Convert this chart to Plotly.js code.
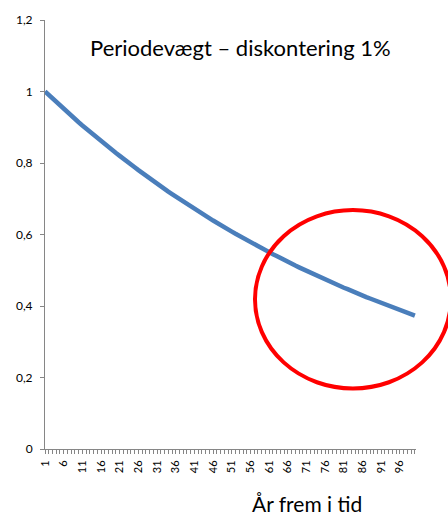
<!DOCTYPE html>
<html>
<head>
<meta charset="utf-8">
<script src="https://cdn.plot.ly/plotly-3.0.1.min.js"></script>
<style>html,body{margin:0;padding:0;background:#fff;}#chart{width:448px;height:516px;}</style>
</head>
<body>
<div id="chart"></div>
<script>
var years = [1,2,3,4,5,6,7,8,9,10,11,12,13,14,15,16,17,18,19,20,
  21,22,23,24,25,26,27,28,29,30,31,32,33,34,35,36,37,38,39,40,
  41,42,43,44,45,46,47,48,49,50,51,52,53,54,55,56,57,58,59,60,
  61,62,63,64,65,66,67,68,69,70,71,72,73,74,75,76,77,78,79,80,
  81,82,83,84,85,86,87,88,89,90,91,92,93,94,95,96,97,98,99,100];
var weights = [1.000,0.990,0.980,0.971,0.961,0.951,0.942,0.933,0.923,0.914,
  0.905,0.896,0.887,0.879,0.870,0.861,0.853,0.844,0.836,0.828,
  0.820,0.811,0.803,0.795,0.788,0.780,0.772,0.764,0.757,0.749,
  0.742,0.735,0.727,0.720,0.713,0.706,0.699,0.692,0.685,0.678,
  0.672,0.665,0.658,0.652,0.645,0.639,0.633,0.626,0.620,0.614,
  0.608,0.602,0.596,0.590,0.584,0.579,0.573,0.567,0.562,0.556,
  0.550,0.545,0.540,0.534,0.529,0.524,0.519,0.513,0.508,0.503,
  0.498,0.493,0.489,0.484,0.479,0.474,0.469,0.465,0.460,0.456,
  0.451,0.447,0.442,0.438,0.434,0.429,0.425,0.421,0.417,0.412,
  0.408,0.404,0.400,0.396,0.392,0.389,0.385,0.381,0.377,0.373];
var xTickLabels = [1,6,11,16,21,26,31,36,41,46,51,56,61,66,71,76,81,86,91,96];
var yTickValues = [0,0.2,0.4,0.6,0.8,1,1.2];

var font = 'Lato, "Open Sans", sans-serif';
var trace = {
  x: years, y: weights, type: 'scatter', mode: 'lines',
  line: {color: '#4a7ebb', width: 4.5}, hoverinfo: 'x+y'
};
var layout = {
  width: 448, height: 516,
  margin: {l: 45, r: 32, t: 20, b: 67},
  paper_bgcolor: '#ffffff', plot_bgcolor: '#ffffff',
  separators: ',.',
  showlegend: false,
  font: {family: font, color: '#000000'},
  xaxis: {
    range: [1, 100.3], showgrid: false, zeroline: false,
    showline: true, linecolor: '#868686', linewidth: 1,
    tickmode: 'array', tickvals: xTickLabels, ticktext: xTickLabels.map(String),
    ticks: 'outside', ticklen: 4, tickcolor: '#868686', tickwidth: 1,
    tickangle: -90, tickfont: {size: 11, family: font, color: '#000'},
    ticklabelstandoff: 2,
    minor: {dtick: 1, tick0: 0, ticks: 'outside', ticklen: 4, tickcolor: '#868686', tickwidth: 1},
    fixedrange: true
  },
  yaxis: {
    range: [0, 1.2], showgrid: false, zeroline: false,
    showline: true, linecolor: '#868686', linewidth: 1,
    tickmode: 'array', tickvals: yTickValues,
    ticks: 'outside', ticklen: 4, tickcolor: '#868686', tickwidth: 1,
    tickfont: {size: 12, family: font, color: '#000'},
    ticklabelstandoff: 5,
    fixedrange: true
  },
  annotations: [{
    text: 'Periodevægt – diskontering 1%', xref: 'paper', yref: 'paper',
    x: 0.528, y: 0.935, xanchor: 'center', yanchor: 'middle', showarrow: false,
    font: {size: 22, family: font, color: '#000'}
  }, {
    text: 'År frem i tid', xref: 'paper', yref: 'paper',
    x: 0.706, y: -0.126, xanchor: 'center', yanchor: 'middle', showarrow: false,
    font: {size: 21, family: font, color: '#000'}
  }],
  shapes: [{
    type: 'circle', xref: 'paper', yref: 'paper',
    x0: 0.566, x1: 1.094, y0: 0.141, y1: 0.557,
    line: {color: '#ff0000', width: 4}, fillcolor: 'rgba(0,0,0,0)'
  }]
};
Plotly.newPlot('chart', [trace], layout, {displayModeBar: false, staticPlot: true});
</script>
</body>
</html>
